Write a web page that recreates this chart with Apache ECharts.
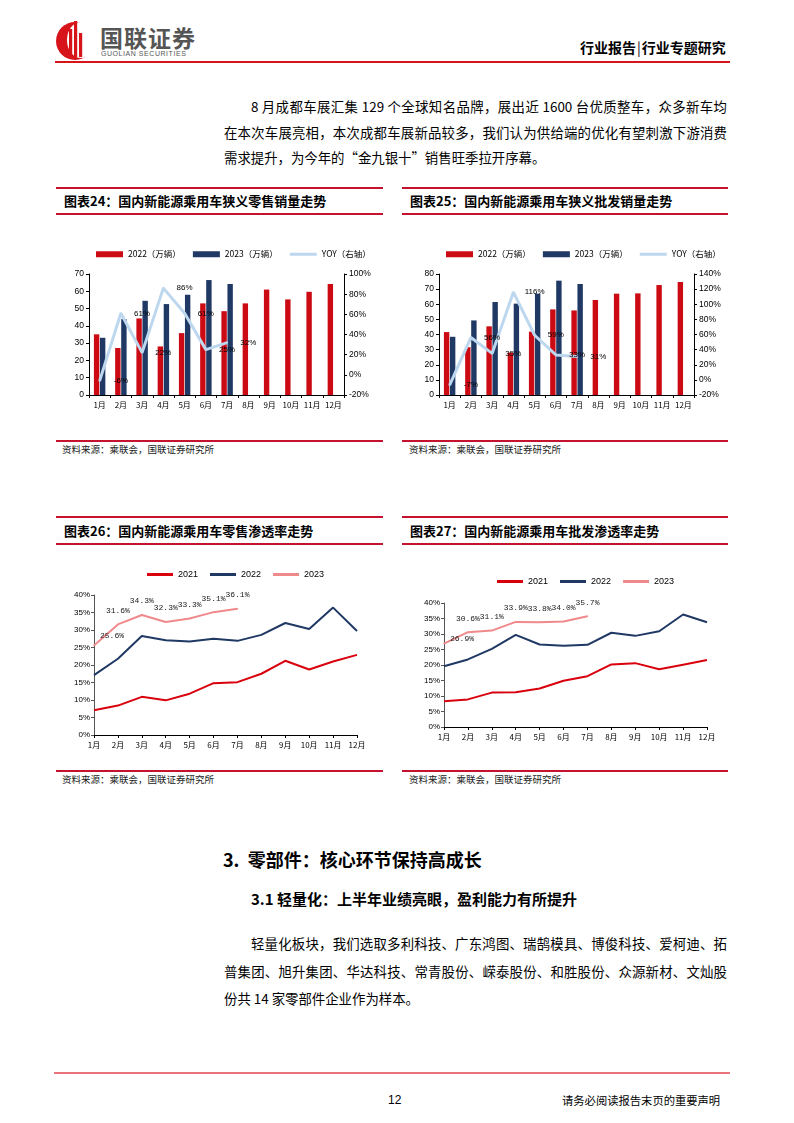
<!DOCTYPE html>
<html>
<head>
<meta charset="utf-8">
<script src="https://cdn.jsdelivr.net/npm/echarts/dist/echarts.min.js"></script>
<style>
  html, body { margin: 0; padding: 0; background: #fff; }
  body { width: 794px; height: 1123px; position: relative; overflow: hidden; font-family: 'Noto Sans CJK SC', sans-serif; color: #000; }
  .abs { position: absolute; white-space: nowrap; }
  .rule { position: absolute; height: 2px; background: #C4122F; }
  .para { position: absolute; font-size: 13.4px; line-height: 20px; height: 20px; }
  .just { text-align: justify; text-align-last: justify; white-space: nowrap; }
  .ftitle { position: absolute; font-size: 13px; font-weight: 700; line-height: 18px; }
  .src { position: absolute; font-size: 9.5px; line-height: 14px; color: #222; }
  .chart { position: absolute; width: 326px; height: 225px; }
</style>
</head>
<body>

<!-- header -->
<svg class="abs" style="left:52px;top:17px" width="48" height="46" viewBox="0 0 48 46">
  <circle cx="23" cy="24" r="19" fill="#D7141A"/>
  <ellipse cx="29" cy="23" rx="14" ry="18" fill="#fff"/>
  <rect x="17" y="12" width="3.2" height="28" fill="#D7141A"/>
  <rect x="22" y="4" width="3.2" height="36" fill="#D7141A"/>
  <rect x="27" y="16" width="3.2" height="24" fill="#D7141A"/>
</svg>
<div class="abs" style="left:100px;top:22px;font-size:23px;font-weight:700;color:#555;letter-spacing:1px;line-height:30px;">国联证券</div>
<div class="abs" style="left:101px;top:49px;font-size:7px;color:#555;letter-spacing:0.55px;line-height:9px;font-family:'Liberation Sans',sans-serif;">GUOLIAN SECURITIES</div>
<div class="abs" style="left:580px;top:37px;font-size:14px;font-weight:700;line-height:20px;">行业报告<span style="font-weight:400;margin:0 1px;">|</span>行业专题研究</div>
<div class="abs" style="left:55px;top:61px;width:675px;height:2px;background:#D7141A;"></div>

<!-- paragraph 1 -->
<div class="para just" style="left:251px;top:96px;width:476px;">8 月成都车展汇集 129 个全球知名品牌，展出近 1600 台优质整车，众多新车均</div>
<div class="para just" style="left:224px;top:122px;width:503px;">在本次车展亮相，本次成都车展新品较多，我们认为供给端的优化有望刺激下游消费</div>
<div class="para" style="left:224px;top:147px;">需求提升，为今年的“金九银十”销售旺季拉开序幕。</div>

<!-- figure 24 / 25 titles -->
<div class="rule" style="left:56px;top:187px;width:327px;"></div>
<div class="rule" style="left:402px;top:187px;width:326px;"></div>
<div class="ftitle" style="left:64px;top:192px;">图表24：国内新能源乘用车狭义零售销量走势</div>
<div class="ftitle" style="left:410px;top:192px;">图表25：国内新能源乘用车狭义批发销量走势</div>
<div class="rule" style="left:56px;top:213px;width:327px;"></div>
<div class="rule" style="left:402px;top:213px;width:326px;"></div>

<div id="c24" class="chart" style="left:57px;top:215px;"></div>
<div id="c25" class="chart" style="left:402px;top:215px;"></div>

<div class="rule" style="left:56px;top:440px;width:327px;"></div>
<div class="rule" style="left:402px;top:440px;width:326px;"></div>
<div class="src" style="left:62px;top:442px;">资料来源：乘联会，国联证券研究所</div>
<div class="src" style="left:409px;top:442px;">资料来源：乘联会，国联证券研究所</div>

<!-- figure 26 / 27 titles -->
<div class="rule" style="left:56px;top:516px;width:327px;"></div>
<div class="rule" style="left:402px;top:516px;width:326px;"></div>
<div class="ftitle" style="left:64px;top:522px;">图表26：国内新能源乘用车零售渗透率走势</div>
<div class="ftitle" style="left:410px;top:522px;">图表27：国内新能源乘用车批发渗透率走势</div>
<div class="rule" style="left:56px;top:543px;width:327px;"></div>
<div class="rule" style="left:402px;top:543px;width:326px;"></div>

<div id="c26" class="chart" style="left:57px;top:545px;"></div>
<div id="c27" class="chart" style="left:402px;top:545px;"></div>

<div class="rule" style="left:56px;top:770px;width:327px;"></div>
<div class="rule" style="left:402px;top:770px;width:326px;"></div>
<div class="src" style="left:62px;top:772px;">资料来源：乘联会，国联证券研究所</div>
<div class="src" style="left:409px;top:772px;">资料来源：乘联会，国联证券研究所</div>

<!-- section headings -->
<div class="abs" style="left:223px;top:847px;font-size:18px;font-weight:700;line-height:24px;">3.&nbsp;&nbsp;零部件：核心环节保持高成长</div>
<div class="abs" style="left:251px;top:889px;font-size:15px;font-weight:700;line-height:20px;">3.1 轻量化：上半年业绩亮眼，盈利能力有所提升</div>

<!-- paragraph 2 -->
<div class="para just" style="left:251px;top:933px;width:476px;">轻量化板块，我们选取多利科技、广东鸿图、瑞鹄模具、博俊科技、爱柯迪、拓</div>
<div class="para just" style="left:224px;top:961px;width:503px;">普集团、旭升集团、华达科技、常青股份、嵘泰股份、和胜股份、众源新材、文灿股</div>
<div class="para" style="left:224px;top:988px;">份共 14 家零部件企业作为样本。</div>

<!-- footer -->
<div class="abs" style="left:54px;top:1072px;width:676px;height:2px;background:#E8737D;"></div>
<div class="abs" style="left:388px;top:1092px;font-size:12px;line-height:16px;font-family:'Liberation Sans',sans-serif;">12</div>
<div class="abs" style="left:562px;top:1092px;font-size:11.3px;line-height:16px;">请务必阅读报告末页的重要声明</div>

<script>
// ---------------- data ----------------
const months = ['1月','2月','3月','4月','5月','6月','7月','8月','9月','10月','11月','12月'];

// 图表24 狭义零售销量（万辆）
const retail2022 = [35.1, 27.2, 44.3, 28.1, 35.8, 53.0, 48.5, 53.0, 61.0, 55.3, 59.7, 64.2];
const retail2023 = [33.1, 43.9, 54.5, 52.6, 58.0, 66.5, 64.2];
const retailYoy  = [-6, 61, 22, 86, 61, 25, 32];

// 图表25 狭义批发销量（万辆）
const wholesale2022 = [41.6, 31.6, 45.4, 28.0, 41.9, 56.6, 55.9, 62.8, 67.0, 67.2, 72.7, 74.7];
const wholesale2023 = [38.5, 49.3, 61.5, 60.4, 67.0, 75.6, 73.4];
const wholesaleYoy  = [-7, 56, 35, 116, 59, 33, 31];

// 图表26 零售渗透率（%）
const retailPen2021 = [7.1, 8.4, 10.9, 9.9, 11.8, 14.8, 15.1, 17.5, 21.2, 18.7, 21.0, 22.9];
const retailPen2022 = [17.1, 21.8, 28.3, 27.1, 26.7, 27.5, 26.9, 28.6, 32.0, 30.3, 36.4, 29.7];
const retailPen2023 = [25.6, 31.6, 34.3, 32.3, 33.3, 35.1, 36.1];

// 图表27 批发渗透率（%）
const wholesalePen2021 = [8.3, 8.9, 11.1, 11.2, 12.4, 14.9, 16.4, 20.2, 20.6, 18.6, 20.1, 21.6];
const wholesalePen2022 = [19.6, 21.8, 25.2, 29.7, 26.6, 26.2, 26.5, 30.4, 29.4, 30.9, 36.3, 33.8];
const wholesalePen2023 = [26.9, 30.6, 31.1, 33.9, 33.8, 34.0, 35.7];

// ---------------- styles ----------------
const RED = '#CC0A14', NAVY = '#1F3864', LIGHT = '#BDD7EE', PINK = '#F0898B', RED21 = '#D9000D';
const sans = 'Liberation Sans';
const cjk = 'Noto Sans CJK SC';

function barOption(s22, s23, yoy, leftMax, rightMax, grid, legendLeft) {
  const catW = (326 - grid.left - grid.right) / 12;
  return {
    animation: false,
    legend: {
      left: legendLeft, top: 30, width: 310, itemWidth: 27, itemHeight: 6, itemGap: 12,
      textStyle: { fontSize: 8.5, fontFamily: cjk, color: '#000' },
      data: [
        { name: '2022（万辆）', icon: 'rect' },
        { name: '2023（万辆）', icon: 'rect' },
        { name: 'YOY（右轴）', icon: 'path://M0,0 M0,6 M0,1.5 L27,1.5 L27,4.5 L0,4.5 Z' }
      ]
    },
    grid: grid,
    xAxis: {
      type: 'category', data: months,
      axisLine: { lineStyle: { color: '#000', width: 1 } },
      axisTick: { show: true, length: 3, lineStyle: { color: '#000' } },
      axisLabel: { fontSize: 8, fontFamily: cjk, color: '#000', margin: 6, interval: 0 }
    },
    yAxis: [
      {
        type: 'value', min: 0, max: leftMax, interval: 10,
        splitLine: { show: false },
        axisLine: { show: true, lineStyle: { color: '#000' } },
        axisTick: { show: true, length: 3, lineStyle: { color: '#000' } },
        axisLabel: { fontSize: 8.5, fontFamily: sans, color: '#000', margin: 5 }
      },
      {
        type: 'value', min: -20, max: rightMax, interval: 20,
        splitLine: { show: false },
        axisLine: { show: true, lineStyle: { color: '#000' } },
        axisTick: { show: true, length: 3, lineStyle: { color: '#000' } },
        axisLabel: { fontSize: 8.5, fontFamily: sans, color: '#000', margin: 5, formatter: '{value}%' }
      }
    ],
    series: [
      { name: '2022（万辆）', type: 'bar', data: s22, barWidth: 5.4, barGap: '12%', itemStyle: { color: RED } },
      { name: '2023（万辆）', type: 'bar', data: s23, barWidth: 5.4, barGap: '12%', itemStyle: { color: NAVY } },
      {
        name: 'YOY（右轴）', type: 'line', yAxisIndex: 1, data: yoy,
        symbol: 'circle', symbolSize: 2, itemStyle: { color: LIGHT },
        lineStyle: { color: LIGHT, width: 3 },
        label: {
          show: true, position: 'inside', offset: [catW, 0], formatter: '{c}%',
          fontSize: 8, fontFamily: sans, color: '#000'
        },
        z: 5
      }
    ]
  };
}

function penOption(s21, s22, s23, grid, legendLeft, legendTop, firstOffset) {
  const data23 = s23.map((v, i) => i === 0
    ? { value: v, label: { position: 'inside', offset: firstOffset } }
    : v);
  return {
    animation: false,
    legend: {
      left: legendLeft, top: legendTop, itemWidth: 26, itemHeight: 3, itemGap: 12, icon: 'rect',
      textStyle: { fontSize: 9, fontFamily: sans, color: '#000' },
      data: ['2021', '2022', '2023']
    },
    grid: grid,
    xAxis: {
      type: 'category', data: months, boundaryGap: false,
      axisLine: { lineStyle: { color: '#000', width: 1 } },
      axisTick: { show: true, length: 3, lineStyle: { color: '#000' } },
      axisLabel: { fontSize: 8, fontFamily: cjk, color: '#000', margin: 6, interval: 0 }
    },
    yAxis: {
      type: 'value', min: 0, max: 40, interval: 5,
      splitLine: { show: false },
      axisLine: { show: true, lineStyle: { color: '#555' } },
      axisTick: { show: true, length: 3, lineStyle: { color: '#555' } },
      axisLabel: { fontSize: 8, fontFamily: sans, color: '#000', margin: 4, formatter: '{value}%' }
    },
    series: [
      { name: '2021', type: 'line', data: s21, symbol: 'none', lineStyle: { color: RED21, width: 2 }, itemStyle: { color: RED21 } },
      { name: '2022', type: 'line', data: s22, symbol: 'none', lineStyle: { color: NAVY, width: 2 }, itemStyle: { color: NAVY } },
      {
        name: '2023', type: 'line', data: data23, symbol: 'circle', symbolSize: 1.5,
        lineStyle: { color: PINK, width: 2 }, itemStyle: { color: PINK },
        label: {
          show: true, position: 'top', distance: 9,
          formatter: p => p.value.toFixed(1) + '%',
          fontSize: 8, fontFamily: 'Liberation Mono', color: '#222'
        }
      }
    ]
  };
}

const opts = { renderer: 'canvas' };
echarts.init(document.getElementById('c24'), null, opts).setOption(
  barOption(retail2022, retail2023, retailYoy, 70, 100, { left: 32, right: 39, top: 59, bottom: 45 }, 34));
echarts.init(document.getElementById('c25'), null, opts).setOption(
  barOption(wholesale2022, wholesale2023, wholesaleYoy, 80, 140, { left: 37, right: 34, top: 59, bottom: 45 }, 39));
echarts.init(document.getElementById('c26'), null, opts).setOption(
  penOption(retailPen2021, retailPen2022, retailPen2023, { left: 37, right: 26, top: 50, bottom: 35 }, 85, 20, [18, -10]));
echarts.init(document.getElementById('c27'), null, opts).setOption(
  penOption(wholesalePen2021, wholesalePen2022, wholesalePen2023, { left: 42, right: 21, top: 58, bottom: 43 }, 90, 27, [18, -5]));
</script>
</body>
</html>
